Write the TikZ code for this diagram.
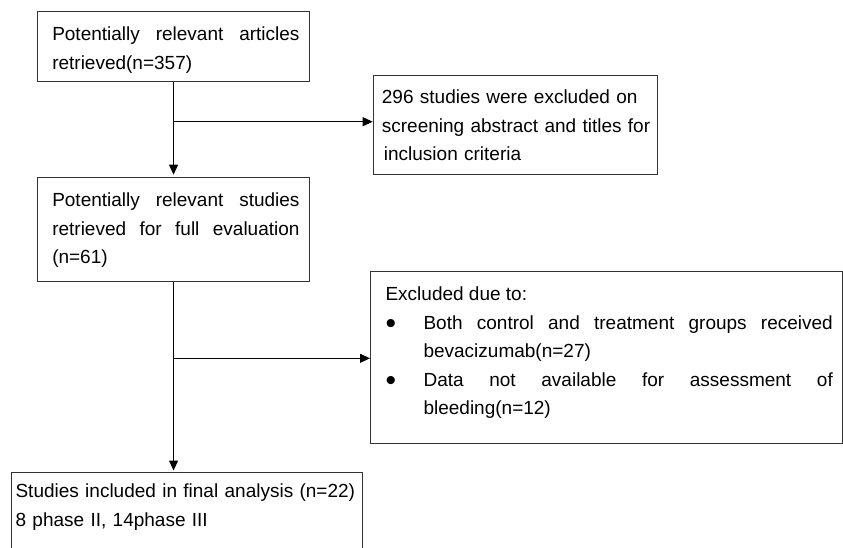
\documentclass[tikz,border=0pt]{standalone}
\usepackage{fontspec}
\setmainfont{Liberation Sans}
\usetikzlibrary{arrows.meta}
\tolerance=10000
\hbadness=10000
\newcommand{\mybullet}{\makebox[38pt][l]{\raisebox{-4pt}{\fontsize{30}{28}\selectfont\textbullet}}}
\begin{document}
\begin{tikzpicture}[x=1pt,y=-1pt,
  box/.style={draw=black!80, line width=1.1pt, anchor=north west, inner ysep=0pt,
    font=\fontsize{19}{28.6}\selectfont},
  arr/.style={draw=black, line width=1.1pt, -{Triangle[length=10pt,width=9pt]}},
  ln/.style={draw=black, line width=1.1pt}]
\useasboundingbox (0,0) rectangle (843,548);
\clip (0,0) rectangle (843,548);
\fill[white] (0,0) rectangle (843,548);

\node[box, text width=252pt, inner xsep=10pt, align=justify,
      text height=29pt, text depth=41pt] (b1) at (37,11)
  {\leftskip=4.7pt Potentially relevant articles\linebreak retrieved(n=357)\par};

\node[box, text width=252pt, inner xsep=10pt, align=justify,
      text height=29.3pt, text depth=75pt] (b2) at (37,176.7)
  {\leftskip=4.7pt Potentially relevant studies\linebreak retrieved for full evaluation\linebreak (n=61)\par};

\node[box, text width=276pt, inner xsep=4.15pt, align=left,
      text height=28pt, text depth=71pt] (x1) at (372.7,75)
  {\leftskip=4.5pt 296 studies were excluded on\\screening abstract and titles for\\\hspace*{2pt}inclusion criteria\par};

\node[box, text width=452.3pt, inner xsep=10pt, align=justify,
      text height=29pt, text depth=143pt] (x2) at (370,271)
  {\leftskip=5pt Excluded due to:\par
   \hangindent=38pt\hangafter=1\noindent\mybullet Both control and treatment groups received\linebreak bevacizumab(n=27)\par
   \hangindent=38pt\hangafter=1\noindent\mybullet Data not available for assessment of\linebreak bleeding(n=12)\par};

\node[box, text width=345pt, inner xsep=3pt, align=left,
      text height=25pt, text depth=100pt] (b3) at (11,472)
  {\leftskip=1pt Studies included in final analysis (n=22)\\8 phase II, 14phase III\par};

\coordinate (j1) at (b1.south |- 0,121.7);
\coordinate (j2) at (b2.south |- 0,358.3);

\draw[arr, shorten >=2pt] (b1.south) -- (b2.north);
\draw[arr] (j1) -- (j1 -| x1.west);
\draw[arr, shorten >=1.5pt] (b2.south) -- (b2.south |- b3.north);
\draw[arr] (j2) -- (j2 -| x2.west);
\end{tikzpicture}
\end{document}
